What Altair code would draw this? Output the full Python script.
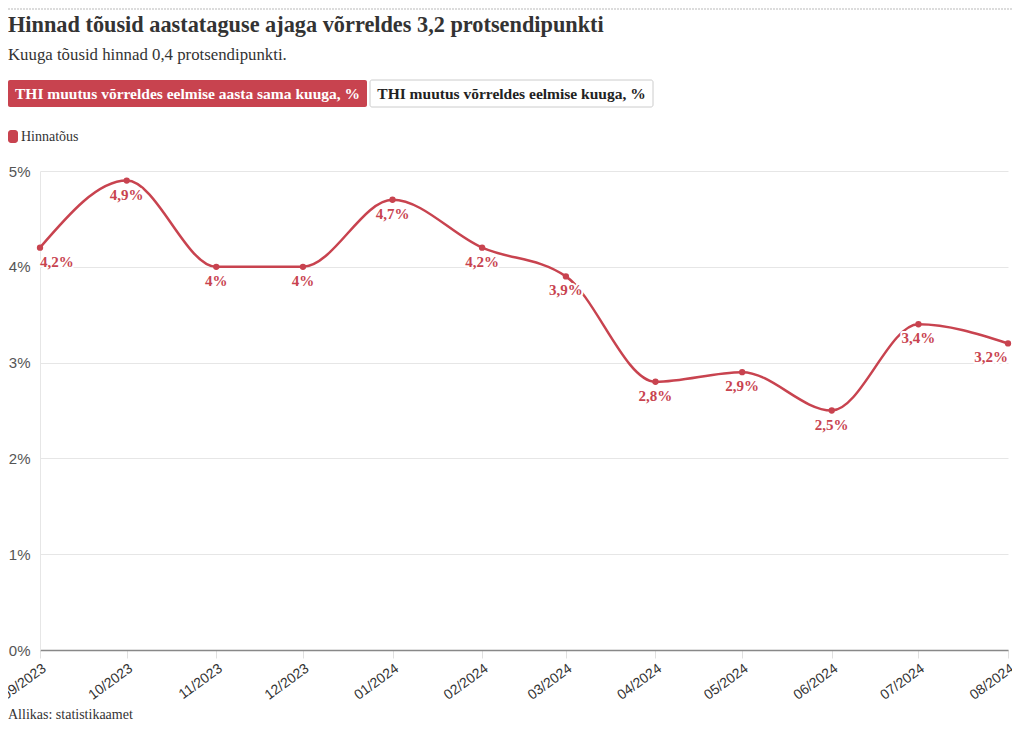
import altair as alt
import pandas as pd

months = ["2023-09-01", "2023-10-01", "2023-11-01", "2023-12-01", "2024-01-01", "2024-02-01",
          "2024-03-01", "2024-04-01", "2024-05-01", "2024-06-01", "2024-07-01", "2024-08-01"]
values = [4.2, 4.9, 4.0, 4.0, 4.7, 4.2, 3.9, 2.8, 2.9, 2.5, 3.4, 3.2]
labels = [f"{v:g}".replace(".", ",") + "%" for v in values]
y_ticks = [0, 1, 2, 3, 4, 5]

title_text = "Hinnad tõusid aastataguse ajaga võrreldes 3,2 protsendipunkti"
subtitle_text = "Kuuga tõusid hinnad 0,4 protsendipunkti."
tab1_text = "THI muutus võrreldes eelmise aasta sama kuuga, %"
tab2_text = "THI muutus võrreldes eelmise kuuga, %"
legend_text = "Hinnatõus"
source_text = "Allikas: statistikaamet"

RED = "#c8434f"
SERIF = "Liberation Serif"
SANS = "Liberation Sans"

W, H = 968, 479

df = pd.DataFrame({"date": months, "value": values, "label": labels,
                   "idx": list(range(len(months)))})

tick_ms = [int(pd.Timestamp(m, tz="UTC").value // 10**6) for m in months]

x_enc = alt.X("date:T", title=None,
              scale=alt.Scale(type="utc", domain=[tick_ms[0], tick_ms[-1]]),
              axis=alt.Axis(values=tick_ms, labelExpr="utcFormat(datum.value, '%m/%Y')",
                            labelAngle=-36, labelAlign="right", labelBaseline="top",
                            labelFont=SANS, labelFontSize=14, labelColor="#333",
                            labelPadding=3, grid=False,
                            domainColor="#888", domainWidth=1.5,
                            tickColor="#e0e0e0", tickSize=8, labelOverlap=False))
y_enc = alt.Y("value:Q", title=None,
              scale=alt.Scale(domain=[0, 5], nice=False),
              axis=alt.Axis(values=y_ticks, labelExpr="datum.value + '%'",
                            labelFont=SANS, labelFontSize=15, labelColor="#555",
                            labelPadding=10, ticks=False, domainColor="#e6e6e6",
                            gridColor="#e6e6e6", gridWidth=1))

base = alt.Chart(df)
line = base.mark_line(color=RED, strokeWidth=2.5, interpolate="monotone").encode(x=x_enc, y=y_enc)
pts = base.mark_point(filled=True, color=RED, size=40, opacity=1).encode(x="date:T", y="value:Q")


def lab(align, filt, halo):
    kw = dict(align=align, baseline="middle", dy=14, font=SERIF, fontSize=15, fontWeight="bold")
    if halo:
        m = base.mark_text(color="white", stroke="white", strokeWidth=4, strokeJoin="round", **kw)
    else:
        m = base.mark_text(color=RED, **kw)
    return m.encode(x="date:T", y="value:Q", text="label:N").transform_filter(filt)


last = len(months) - 1
labels_layers = []
for halo in (True, False):
    labels_layers += [
        lab("left", "datum.idx == 0", halo),
        lab("center", f"datum.idx > 0 && datum.idx < {last}", halo),
        lab("right", f"datum.idx == {last}", halo),
    ]

# decorative header / footer (page coords minus plot origin at x=40, y=171)
one = pd.DataFrame({"t": [""]})


def txt(s, x, y, size, color="#333", weight="normal", align="left", baseline="alphabetic", font=SERIF):
    return alt.Chart(pd.DataFrame({"t": [s]})).mark_text(
        align=align, baseline=baseline, font=font, fontSize=size, fontWeight=weight, color=color
    ).encode(x=alt.value(x), y=alt.value(y), text="t:N")


def box(x1, x2, y1, y2, fill, stroke=None, radius=2):
    kw = dict(fill=fill, cornerRadius=radius)
    if stroke:
        kw.update(stroke=stroke, strokeWidth=1)
    return alt.Chart(one).mark_rect(**kw).encode(
        x=alt.value(x1), x2=alt.value(x2), y=alt.value(y1), y2=alt.value(y2))


dots = alt.Chart(one).mark_rule(color="#dcdcdc", strokeWidth=2, strokeDash=[2, 1]).encode(
    x=alt.value(-32), x2=alt.value(972), y=alt.value(-162))

header = [
    dots,
    txt(title_text, -32, -139, 22.3, weight="bold"),
    txt(subtitle_text, -32, -111, 16.8),
    box(-32, 327, -91, -64, RED),
    txt(tab1_text, 147.5, -72, 15.5, color="white", weight="bold", align="center"),
    box(330, 613, -91, -64, "white", stroke="#cccccc"),
    txt(tab2_text, 471.5, -72, 15.5, color="#222", weight="bold", align="center"),
    box(-32, -22, -41, -28, RED, radius=3),
    txt(legend_text, -19, -34.5, 14, baseline="middle"),
    txt(source_text, -32, 548, 14),
]

chart = alt.layer(line, *labels_layers[:3], pts, *labels_layers[3:], *header).properties(
    width=W, height=H,
    autosize=alt.AutoSizeParams(type="none"),
    padding={"left": 32, "top": 163, "right": 4, "bottom": 74},
    background="white",
).configure_view(stroke=None)

chart.save("out.html", embed_options={"renderer": "svg", "actions": False})
